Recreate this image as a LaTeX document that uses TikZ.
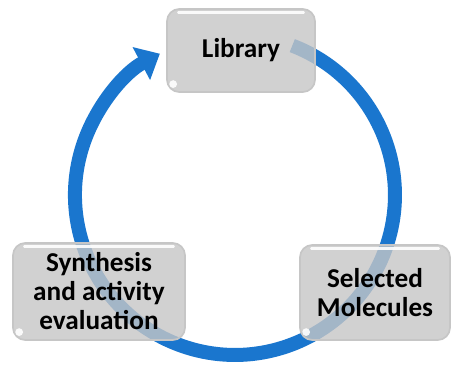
\documentclass[tikz,border=0pt]{standalone}
\usepackage{fontspec}
\setmainfont{Carlito}
\usetikzlibrary{arrows.meta}
\definecolor{cycleblue}{RGB}{26,118,206}
\definecolor{boxgray}{RGB}{198,198,198}
\tikzset{
	stepbox/.style={draw=gray!45, line width=1pt, fill=boxgray, fill opacity=0.8, text opacity=1,
		rounded corners=7pt, align=center, inner sep=0pt,
		font=\bfseries\fontsize{15.5}{16.5}\selectfont},
	gloss/.style={white, line width=1.6pt, line cap=round, opacity=0.9},
}
\begin{document}
\begin{tikzpicture}[x=0.02cm, y=-0.02cm]
	\useasboundingbox (0,0) rectangle (452,367);
	% the cycle
	\draw[cycleblue, line width=0.28cm, -{Triangle[width=0.72cm, length=0.42cm]}]
		(4.7cm,-3.9cm) ++(69:3.2cm) arc[start angle=69, end angle=-242, radius=3.2cm];
	% the three steps
	\node[stepbox, minimum width=2.96cm, minimum height=1.66cm] (lib) at (241,50.5) {Library};
	\node[stepbox, minimum width=3.0cm, minimum height=1.9cm] (sel) at (375,292.5) {Selected\\Molecules};
	\node[stepbox, minimum width=3.44cm, minimum height=1.94cm] (syn) at (99,291.5) {Synthesis\\and activity\\evaluation};
	\foreach \n in {lib, sel, syn} {
		\draw[gloss] ([xshift=7pt, yshift=-2.5pt]\n.north west) -- ([xshift=-7pt, yshift=-2.5pt]\n.north east);
		\fill[white, opacity=0.9] ([xshift=4pt, yshift=5pt]\n.south west) circle (2.2pt);
	}
\end{tikzpicture}
\end{document}
